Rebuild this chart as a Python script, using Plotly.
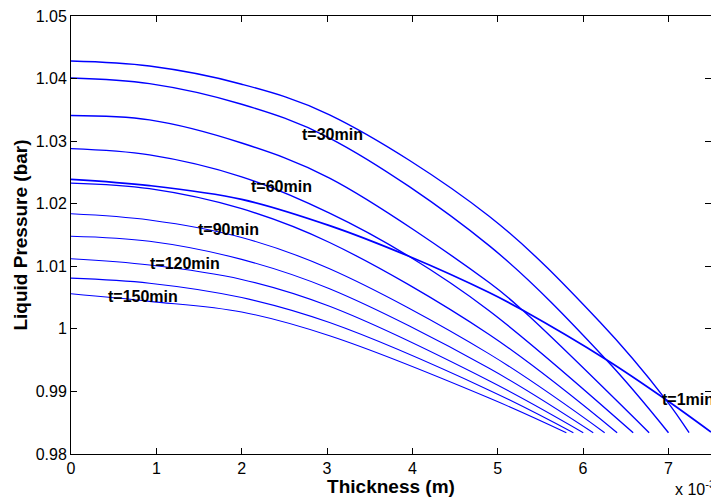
import plotly.graph_objects as go

# Thickness in units of 1e-3 m, liquid pressure in bar
t1_x = [0, 0.92, 2.0, 3.03, 3.96, 4.9, 5.29, 6.27, 6.97, 7.5]
t1_y = [1.0239, 1.0229, 1.0207, 1.0165, 1.0116, 1.0058, 1.0030, 0.9951, 0.9887, 0.9835]

t15_x = [0, 0.92, 2.0, 3.03, 4.9, 6.19, 6.97, 7.243]
t15_y = [1.0428, 1.0420, 1.0391, 1.0342, 1.0180, 1.0012, 0.9887, 0.9834]

t30_x = [0, 0.92, 2.0, 3.03, 4.9, 6.27, 7.002]
t30_y = [1.0401, 1.0392, 1.0359, 1.0305, 1.0133, 0.9951, 0.9834]

t45_x = [0, 0.92, 2.0, 3.03, 4.9, 5.29, 6.775]
t45_y = [1.0341, 1.0334, 1.0297, 1.0241, 1.0074, 1.0030, 0.9834]

t60_x = [0, 0.92, 2.0, 3.03, 3.96, 4.9, 6.588]
t60_y = [1.0288, 1.0278, 1.0243, 1.0185, 1.0116, 1.0029, 0.9834]

t75_x = [0, 0.92, 2.0, 3.03, 4.9, 6.40]
t75_y = [1.0233, 1.0224, 1.0192, 1.0138, 0.9991, 0.9834]

t90_x = [0, 0.92, 2.0, 3.03, 4.9, 6.254]
t90_y = [1.0184, 1.0174, 1.0146, 1.0096, 0.9960, 0.9834]

t105_x = [0, 0.92, 2.0, 3.03, 4.9, 6.12]
t105_y = [1.0148, 1.0140, 1.0111, 1.0064, 0.9937, 0.9834]

t120_x = [0, 0.92, 2.0, 3.03, 4.9, 6.003]
t120_y = [1.0112, 1.0102, 1.0079, 1.0036, 0.9917, 0.9834]

t135_x = [0, 0.92, 2.0, 3.03, 4.9, 5.887]
t135_y = [1.0081, 1.0073, 1.0050, 1.0010, 0.9902, 0.9834]

t150_x = [0, 0.92, 2.0, 3.03, 4.9, 5.805]
t150_y = [1.0056, 1.0044, 1.0027, 0.9989, 0.98895, 0.9834]

series = [
    ("t=1min", t1_x, t1_y, 1.7),
    ("t=15min", t15_x, t15_y, 1.4),
    ("t=30min", t30_x, t30_y, 1.4),
    ("t=45min", t45_x, t45_y, 1.4),
    ("t=60min", t60_x, t60_y, 1.4),
    ("t=75min", t75_x, t75_y, 1.3),
    ("t=90min", t90_x, t90_y, 1.1),
    ("t=105min", t105_x, t105_y, 1.1),
    ("t=120min", t120_x, t120_y, 1.1),
    ("t=135min", t135_x, t135_y, 1.1),
    ("t=150min", t150_x, t150_y, 1.1),
]

label_text = ["t=30min", "t=60min", "t=90min", "t=120min", "t=150min", "t=1min"]
label_x = [2.68, 2.09, 1.47, 0.90, 0.41, 6.90]
label_y = [1.0310, 1.0228, 1.0158, 1.0104, 1.0051, 0.9887]

x_tickvals = [0, 1, 2, 3, 4, 5, 6, 7]
x_ticktext = ["0", "1", "2", "3", "4", "5", "6", "7"]
y_tickvals = [0.98, 0.99, 1.00, 1.01, 1.02, 1.03, 1.04, 1.05]
y_ticktext = ["0.98", "0.99", "1", "1.01", "1.02", "1.03", "1.04", "1.05"]

FONT = "Liberation Sans, Arial, sans-serif"

fig = go.Figure()
for name, xs, ys, w in series:
    fig.add_trace(go.Scatter(
        x=xs, y=ys, mode="lines", name=name,
        line=dict(color="#0000ff", width=w, shape="spline", smoothing=1.0),
        showlegend=False,
    ))

for txt, lx, ly in zip(label_text, label_x, label_y):
    fig.add_annotation(
        x=lx, y=ly, xref="x", yref="y", text=txt, showarrow=False,
        xanchor="left", yanchor="middle",
        font=dict(family=FONT, size=16, color="black", weight="bold"),
    )

fig.add_annotation(
    x=0.9406, y=-0.078, xref="paper", yref="paper",
    text="x 10<sup>-3</sup>", showarrow=False,
    xanchor="left", yanchor="middle",
    font=dict(family=FONT, size=16, color="black"),
)

axis_common = dict(
    showgrid=False, zeroline=False, showline=True, linecolor="black",
    linewidth=1, mirror="ticks", ticks="inside", ticklen=6, tickcolor="black",
    tickfont=dict(family=FONT, size=16, color="black"),
)

fig.update_layout(
    width=711, height=497,
    margin=dict(l=71, r=0, t=16, b=43),
    paper_bgcolor="white", plot_bgcolor="white",
    xaxis=dict(
        range=[0, 7.5], tickvals=x_tickvals, ticktext=x_ticktext,
        title=dict(text="Thickness (m)", standoff=2,
                   font=dict(family=FONT, size=19, color="black", weight="bold")),
        **axis_common,
    ),
    yaxis=dict(
        range=[0.98, 1.05], tickvals=y_tickvals, ticktext=y_ticktext,
        title=dict(text="Liquid Pressure (bar)", standoff=3,
                   font=dict(family=FONT, size=19, color="black", weight="bold")),
        **axis_common,
    ),
)

fig.write_html("out.html")
